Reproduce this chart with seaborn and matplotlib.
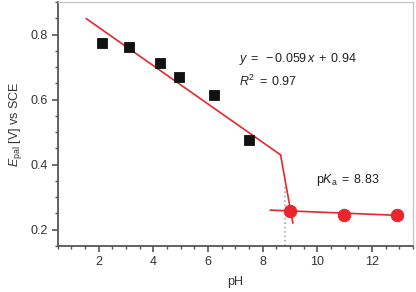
import numpy as np
import pandas as pd
from matplotlib import pyplot as plt
from matplotlib.ticker import MultipleLocator
import seaborn as sns

# data
ph_acid = [2.1, 3.1, 4.25, 4.92, 6.23, 7.48]
e_acid = [0.774, 0.761, 0.713, 0.668, 0.615, 0.475]
ph_base = [8.98, 10.96, 12.9]
e_base = [0.257, 0.244, 0.244]

fit1_x = [1.54, 8.65]
fit1_y = [0.849, 0.43]
steep_x = [8.65, 9.1]
steep_y = [0.43, 0.22]
fit2_x = [8.27, 12.9]
fit2_y = [0.26, 0.244]
pka = 8.83
pka_top = 0.33

red = '#e8262c'
sns.set_style("white")
plt.rcParams['font.family'] = ['Liberation Sans', 'DejaVu Sans']
plt.rcParams['mathtext.fontset'] = 'custom'
plt.rcParams['mathtext.rm'] = 'Liberation Sans'
plt.rcParams['mathtext.it'] = 'Liberation Sans:italic'

fig = plt.figure(figsize=(4.16, 2.92), dpi=100)
ax = fig.add_axes([0.139, 0.158, 0.854, 0.835])

ax.plot([pka, pka], [0.15, pka_top], ls=':', color='#aaaaaa', lw=1.2, zorder=1)
ax.plot(fit1_x, fit1_y, color=red, lw=1.2, zorder=2)
ax.plot(steep_x, steep_y, color=red, lw=1.2, zorder=2)
ax.plot(fit2_x, fit2_y, color=red, lw=1.2, zorder=2)

df1 = pd.DataFrame({'pH': ph_acid, 'E': e_acid})
df2 = pd.DataFrame({'pH': ph_base, 'E': e_base})
sns.scatterplot(data=df1, x='pH', y='E', marker='s', s=58, color='#111111',
                edgecolor='#111111', ax=ax, zorder=3)
sns.scatterplot(data=df2, x='pH', y='E', marker='o', s=80, color=red,
                edgecolor=red, ax=ax, zorder=3)

ax.set_xlim(0.5, 13.5)
ax.set_ylim(0.15, 0.9)
ax.set_xticks([2, 4, 6, 8, 10, 12])
ax.set_yticks([0.2, 0.4, 0.6, 0.8])
ax.xaxis.set_minor_locator(MultipleLocator(0.5))
ax.yaxis.set_minor_locator(MultipleLocator(0.05))
ax.tick_params(which='major', direction='out', length=4, width=1.2, color='#555555',
               labelsize=9, labelcolor='#333333', pad=3, bottom=True, left=True)
ax.tick_params(which='minor', direction='out', length=2.5, width=1, color='#555555',
               bottom=True, left=True)

for s in ['left', 'bottom']:
    ax.spines[s].set_color('#555555')
    ax.spines[s].set_linewidth(1.3)
for s in ['top', 'right']:
    ax.spines[s].set_color('#c8c8c8')
    ax.spines[s].set_linewidth(1.0)

ax.set_xlabel('pH', fontsize=9, color='#333333', labelpad=6)
ax.set_ylabel(r'$E_{\mathrm{pal}}$ [V] vs SCE', fontsize=9, color='#333333', labelpad=5)

ax.text(7.14, 0.717, r'$y\;=\;-0.059\,x\;+\;0.94$', fontsize=9, color='#222222')
ax.text(7.14, 0.643, r'$R^2\;=\;0.97$', fontsize=9, color='#222222')
ax.text(9.94, 0.344, r'$\mathrm{p}K_\mathrm{a}\;=\;8.83$', fontsize=9, color='#222222')

fig.savefig('out.png', dpi=100)
